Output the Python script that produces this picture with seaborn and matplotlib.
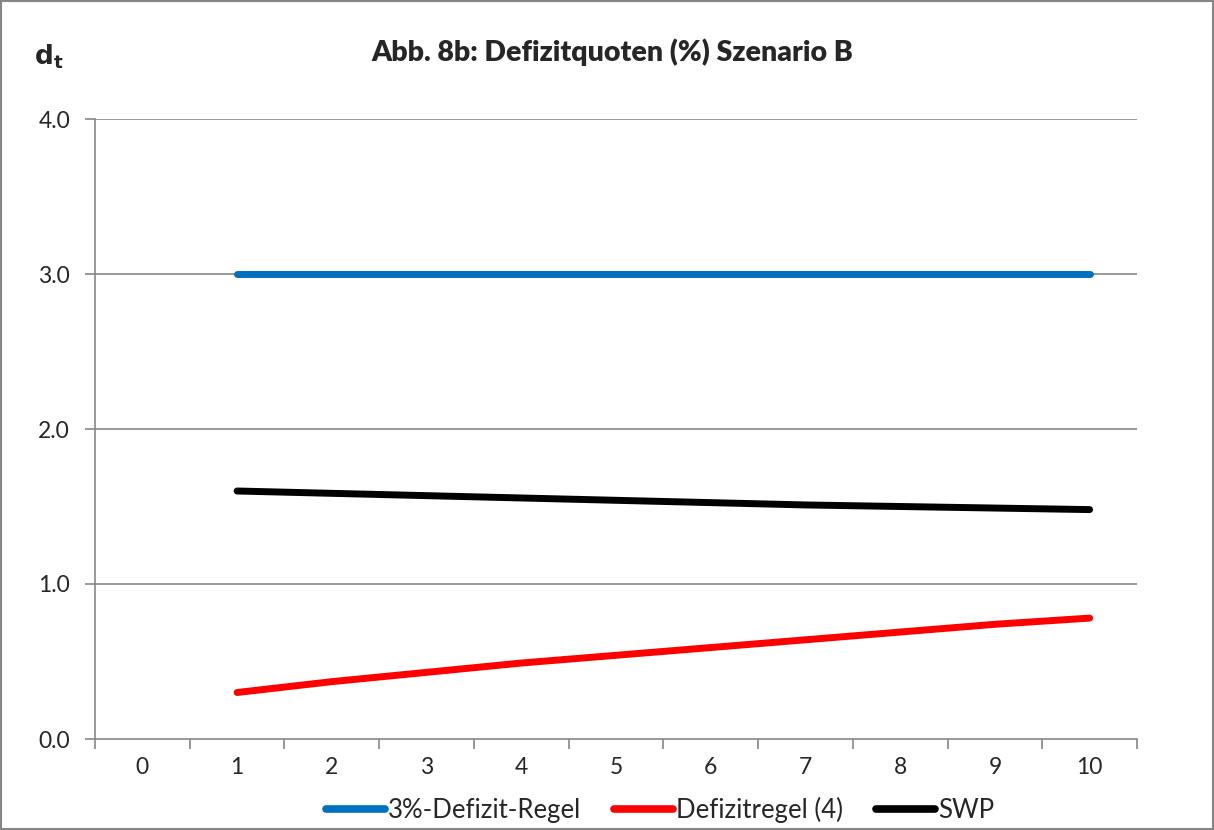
import numpy as np
import pandas as pd
import matplotlib
matplotlib.use("Agg")
import matplotlib.pyplot as plt
import seaborn as sns
from matplotlib.lines import Line2D

periods = list(range(0, 11))
t_vals = list(range(1, 11))
regel3 = [3.0, 3.0, 3.0, 3.0, 3.0, 3.0, 3.0, 3.0, 3.0, 3.0]
defizitregel4 = [0.30, 0.37, 0.43, 0.49, 0.54, 0.59, 0.64, 0.69, 0.74, 0.78]
swp = [1.60, 1.585, 1.57, 1.555, 1.54, 1.525, 1.51, 1.50, 1.49, 1.48]
series_names = ["3%-Defizit-Regel", "Defizitregel (4)", "SWP"]
colors = ["#0070C0", "#FF0000", "#000000"]
y_ticks = [0.0, 1.0, 2.0, 3.0, 4.0]

sns.set_theme(style="white")
plt.rcParams['font.family'] = ['Lato', 'DejaVu Sans']

df = pd.DataFrame({
    "t": t_vals * 3,
    "value": regel3 + defizitregel4 + swp,
    "series": [series_names[0]] * 10 + [series_names[1]] * 10 + [series_names[2]] * 10,
})

fig = plt.figure(figsize=(12.14, 8.30), dpi=100)
ax = fig.add_axes([95 / 1214, 1 - 739 / 830, (1137 - 95) / 1214, (739 - 119) / 830])

sns.lineplot(data=df, x="t", y="value", hue="series", palette=dict(zip(series_names, colors)),
             linewidth=5, ax=ax, legend=False, solid_capstyle="round", zorder=3)

ax.set_xlim(-0.5, 10.5)
ax.set_ylim(0, 4)
ax.set_yticks(y_ticks)
ax.set_yticklabels([f"{v:.1f}" for v in y_ticks], fontsize=16.5)
ax.set_xticks(periods)
ax.set_xticklabels([str(p) for p in periods], fontsize=16.5)
ax.set_xticks(np.arange(-0.5, 11, 1), minor=True)
ax.tick_params(axis="x", which="major", length=0, pad=13)
ax.tick_params(axis="x", which="minor", length=7, width=1.2, color="#868686", direction="out", bottom=True)
ax.tick_params(axis="y", which="major", length=7, width=1.2, color="#868686", direction="out", left=True, pad=11)
ax.set_xlabel("")
ax.set_ylabel("")
for y in y_ticks[1:]:
    ax.axhline(y, color="#868686", linewidth=1.2, zorder=1)
for s in ["top", "right"]:
    ax.spines[s].set_visible(False)
ax.spines["left"].set_color("#868686")
ax.spines["bottom"].set_color("#868686")
ax.spines["left"].set_linewidth(1.2)
ax.spines["bottom"].set_linewidth(1.2)

fig.text(612 / 1214, 1 - 52 / 830, "Abb. 8b: Defizitquoten (%) Szenario B", ha="center", va="center",
         fontsize=20.5, fontweight="heavy")
fig.text(34 / 1214, 1 - 57 / 830, r"$\mathbf{d_t}$", ha="left", va="center", fontsize=19)

handles = [Line2D([0], [0], color=c, linewidth=5.5, solid_capstyle="round") for c in colors]
fig.legend(handles, series_names, loc="center", bbox_to_anchor=(660 / 1214, 1 - 810 / 830), ncol=3,
           frameon=False, fontsize=18.5, handlelength=2.3, handletextpad=0.1, columnspacing=1.3,
           borderpad=0, borderaxespad=0)

border = plt.Rectangle((0.001, 0.001), 0.998, 0.998, transform=fig.transFigure, fill=False,
                       edgecolor="#868686", linewidth=1.5)
fig.add_artist(border)

fig.savefig("out.png", dpi=100)
